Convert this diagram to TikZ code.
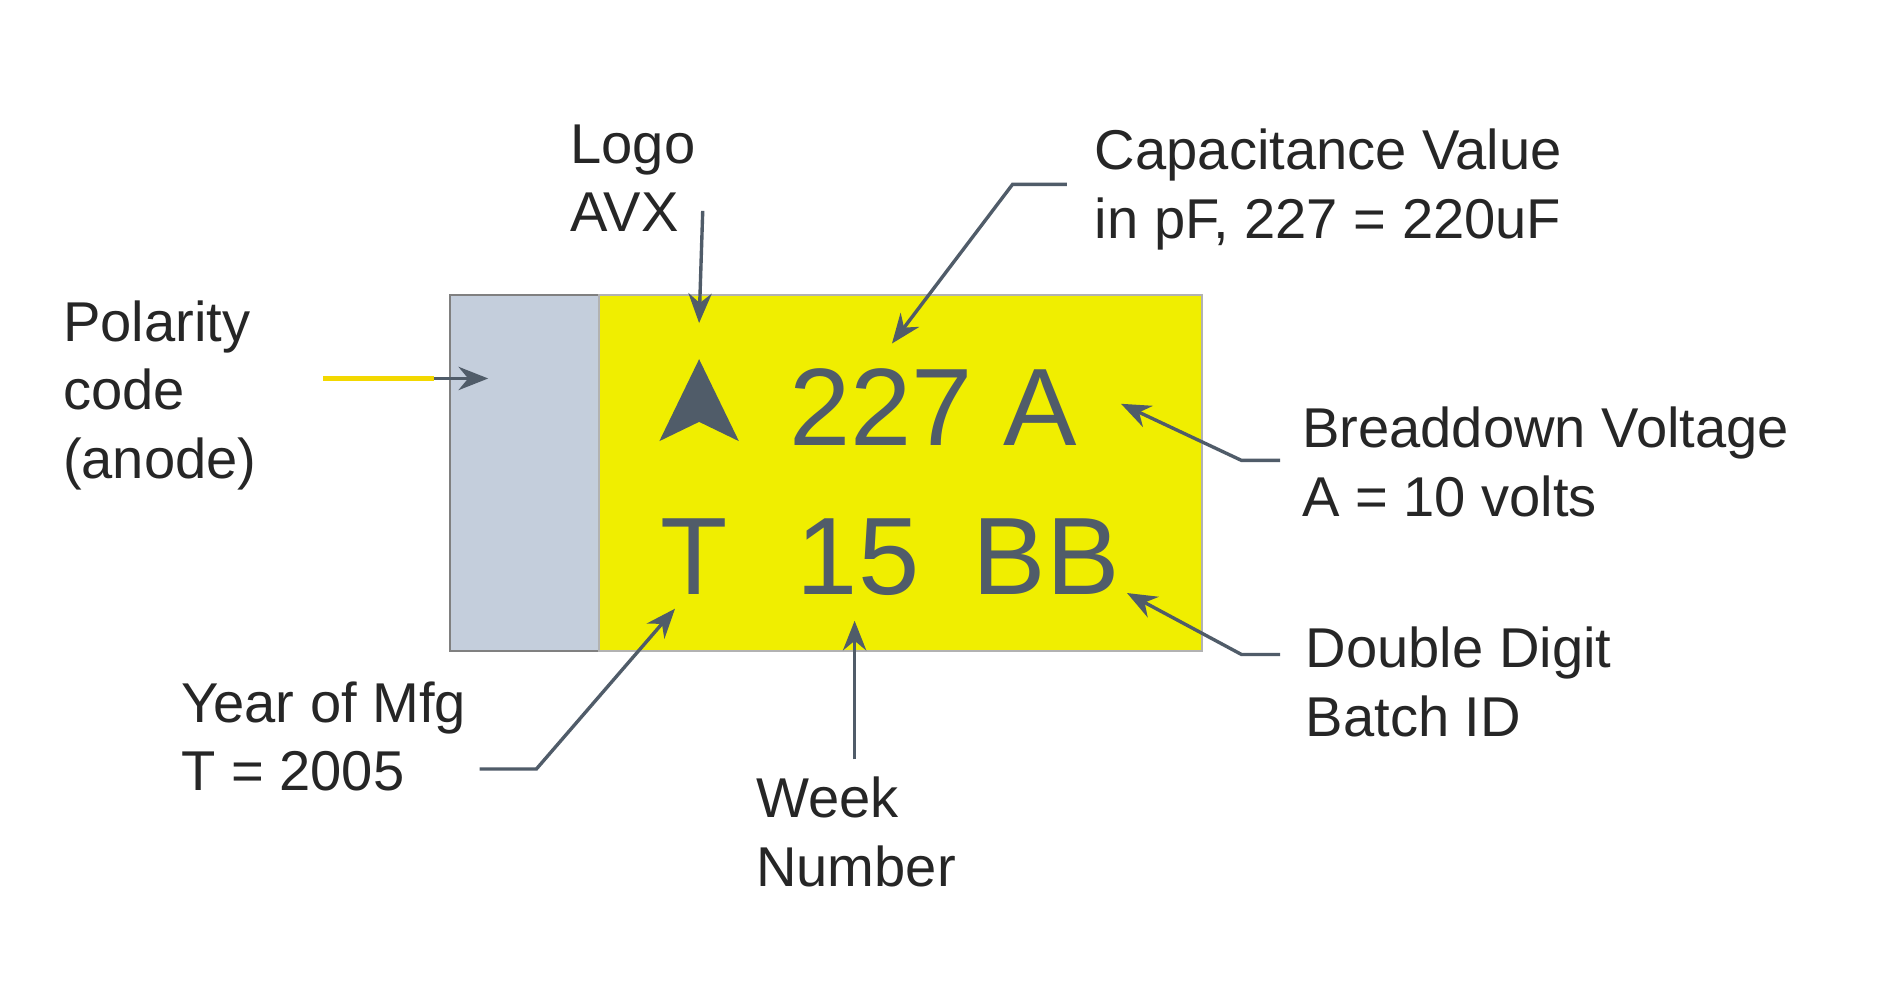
\documentclass[tikz,border=0pt]{standalone}
\usepackage{fontspec}
\setmainfont{Liberation Sans}
\usetikzlibrary{arrows.meta}
\definecolor{slate}{RGB}{80,92,105}
\definecolor{chipy}{RGB}{240,238,0}
\definecolor{band}{RGB}{196,206,220}
\tikzset{
 lbl/.style={anchor=west,inner sep=0,align=left,font=\fontsize{26.5}{32.4}\selectfont,text=black!85},
 chip/.style={inner sep=0,font=\fontsize{52}{52}\selectfont,text=slate},
 ptr/.style={draw=slate,line width=1.6pt,-{Stealth[length=14pt,width=11pt]}}
}
\begin{document}
\begin{tikzpicture}[x=0.02cm,y=-0.02cm]
\useasboundingbox (0,0) rectangle (1568,830);
\fill[white] (0,0) rectangle (1568,830);
\draw[gray,fill=band,line width=1pt] (373,245) rectangle (497,540);
\draw[gray!60,fill=chipy,line width=1pt] (497,245) rectangle (997,540);
% logo
\fill[slate] (547,366) -- (580,298) -- (613,366) -- (580,350) -- cycle;
\node[chip] (cap) at (774,338) {227 A};
\node[chip] (yr) at (576,462) {T};
\node[chip] (wk) at (712,462) {15};
\node[chip] (bb) at (868,462) {BB};
% labels
\node[lbl] (pol) at (52,328) {Polarity\\code\\(anode)};
\node[lbl] (logo) at (473,148) {Logo\\AVX};
\node[lbl] (capl) at (908,157) {Capacitance Value\\in pF, 227 = 220uF};
\node[lbl] (brk) at (1080,383) {Breaddown Voltage\\A = 10 volts};
\node[lbl] (bat) at (1083,566) {Double Digit\\Batch ID};
\node[lbl] (yrl) at (150,611) {Year of Mfg\\T = 2005};
\node[lbl] (wkl) at (627,690) {Week\\Number};
% pointers
\coordinate (p1) at (268,314); \coordinate (p2) at (405,314);
\draw[draw=chipy!80!orange,line width=2.5pt] (p1) -- (360,314);
\draw[ptr] (360,314) -- (p2);
\coordinate (l1) at (583,175); \coordinate (l2) at (580,268);
\draw[ptr] (l1) -- (l2);
\coordinate (c1) at (885,153); \coordinate (c2) at (840,153); \coordinate (c3) at (740,285);
\draw[ptr] (c1) -- (c2) -- (c3);
\coordinate (b1) at (1062,382); \coordinate (b2) at (1030,382); \coordinate (b3) at (930,335);
\draw[ptr] (b1) -- (b2) -- (b3);
\coordinate (d1) at (1062,543); \coordinate (d2) at (1030,543); \coordinate (d3) at (935,492);
\draw[ptr] (d1) -- (d2) -- (d3);
\coordinate (y1) at (398,638); \coordinate (y2) at (445,638); \coordinate (y3) at (560,505);
\draw[ptr] (y1) -- (y2) -- (y3);
\coordinate (w1) at (709,630); \coordinate (w2) at (709,515);
\draw[ptr] (w1) -- (w2);
\end{tikzpicture}
\end{document}
